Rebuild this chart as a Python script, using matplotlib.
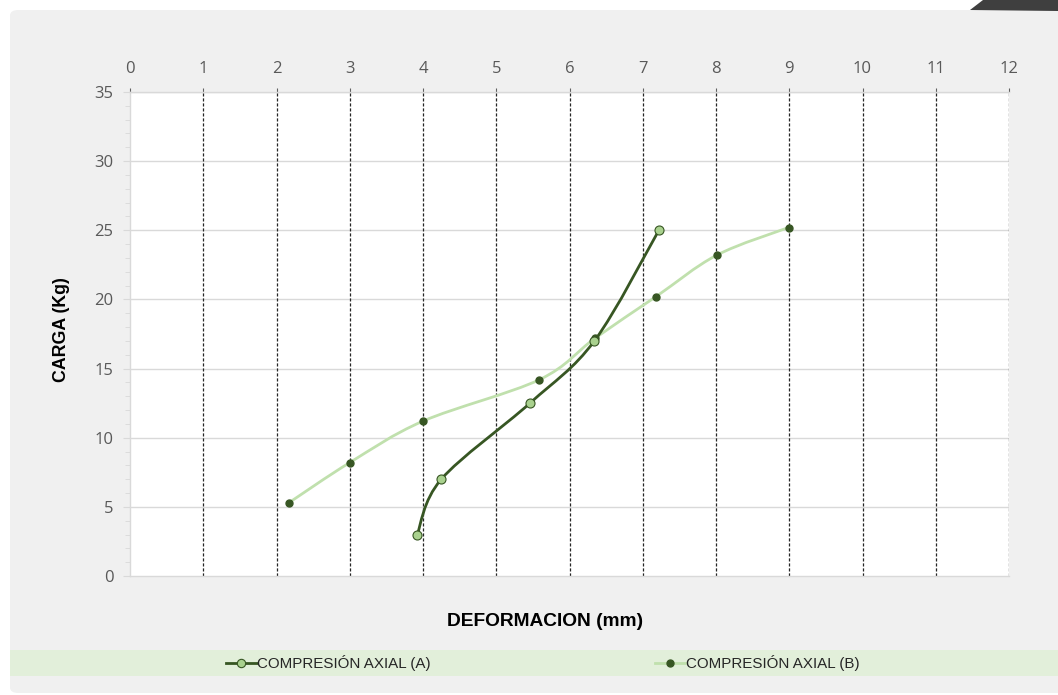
import matplotlib
matplotlib.use("Agg")
import matplotlib.pyplot as plt
import numpy as np
from matplotlib.path import Path
from matplotlib.patches import PathPatch, FancyBboxPatch, Rectangle, Polygon
from matplotlib.lines import Line2D

plt.rcParams["font.family"] = ["Open Sans", "DejaVu Sans"]

# ---- data ----
a_x = [3.92, 4.25, 5.46, 6.34, 7.22]
a_y = [3.0, 7.0, 12.5, 17.0, 25.0]
b_x = [2.17, 3.0, 4.0, 5.59, 6.35, 7.18, 8.01, 8.99]
b_y = [5.3, 8.2, 11.2, 14.2, 17.2, 20.2, 23.2, 25.2]
x_ticks = list(range(0, 13))
y_ticks = [0, 5, 10, 15, 20, 25, 30, 35]
label_a = "COMPRESIÓN AXIAL (A)"
label_b = "COMPRESIÓN AXIAL (B)"
x_title = "DEFORMACION (mm)"
y_title = "CARGA (Kg)"

W, H = 1058, 695
fig = plt.figure(figsize=(W / 100, H / 100), dpi=100)
fig.patch.set_facecolor("white")

def fx(px):
    return px / W

def fy(py):
    return 1 - py / H

# panel background
panel = FancyBboxPatch((fx(10), fy(693)), fx(1070) - fx(10), fy(10) - fy(693),
                       boxstyle="round,pad=0,rounding_size=0.008",
                       transform=fig.transFigure, facecolor="#f0f0f0",
                       edgecolor="none", zorder=-10)
fig.patches.append(panel)
# legend band
band = Rectangle((fx(10), fy(676)), fx(1058) - fx(10), fy(650) - fy(676),
                 transform=fig.transFigure, facecolor="#e2efda", edgecolor="none", zorder=-5)
fig.patches.append(band)
# dark corner tab
tab = Polygon([(fx(970), fy(10)), (fx(983), fy(0)), (fx(1058), fy(0)), (fx(1058), fy(11))],
              closed=True, transform=fig.transFigure, facecolor="#3f3f3f", edgecolor="none", zorder=-5)
fig.patches.append(tab)

ax = fig.add_axes([fx(130), fy(576), fx(1009) - fx(130), fy(92) - fy(576)])
ax.set_facecolor("white")
ax.set_xlim(0, 12)
ax.set_ylim(0, 35)

# grid
for v in y_ticks[1:]:
    ax.axhline(v, color="#d9d9d9", lw=1.0, zorder=1)
for v in x_ticks[1:]:
    ax.axvline(v, color="#262626", lw=0.9, ls=(0, (2.5, 1.5)), zorder=1)

for s in ["right"]:
    ax.spines[s].set_visible(False)
for s in ["left", "bottom", "top"]:
    ax.spines[s].set_color("#d9d9d9")
    ax.spines[s].set_linewidth(1.0)

ax.xaxis.tick_top()
ax.set_xticks(x_ticks)
ax.set_yticks(y_ticks)
ax.set_yticks(np.arange(0, 36, 1), minor=True)
ax.tick_params(axis="x", which="both", length=3, color="#606060", pad=8,
               labelsize=12, labelcolor="#595959", bottom=False, top=True)
ax.tick_params(axis="y", which="major", length=5, color="#d9d9d9", pad=7,
               labelsize=12, labelcolor="#595959")
ax.tick_params(axis="y", which="minor", length=3.5, color="#d9d9d9")

def smooth_path(xs, ys):
    pts = np.column_stack([xs, ys]).astype(float)
    n = len(pts)
    verts = [pts[0]]
    codes = [Path.MOVETO]
    for i in range(n - 1):
        p0 = pts[i - 1] if i > 0 else pts[i]
        p1 = pts[i]
        p2 = pts[i + 1]
        p3 = pts[i + 2] if i + 2 < n else pts[i + 1]
        c1 = p1 + (p2 - p0) / 6.0
        c2 = p2 - (p3 - p1) / 6.0
        verts += [c1, c2, p2]
        codes += [Path.CURVE4] * 3
    return Path(verts, codes)

col_dark = "#375623"
col_light = "#c0e0ad"
col_face = "#a9d18e"

ax.add_patch(PathPatch(smooth_path(b_x, b_y), facecolor="none", edgecolor=col_light,
                       lw=2.0, zorder=3, capstyle="round"))
ax.plot(b_x, b_y, ls="none", marker="o", ms=5, mfc=col_dark, mec=col_dark, zorder=4)

ax.add_patch(PathPatch(smooth_path(a_x, a_y), facecolor="none", edgecolor=col_dark,
                       lw=2.0, zorder=5, capstyle="round"))
ax.plot(a_x, a_y, ls="none", marker="o", ms=6.5, mfc=col_face, mec=col_dark, mew=0.8, zorder=6)

fig.text(fx(545), fy(622), x_title, ha="center", va="center", fontsize=13.8,
         fontweight="bold", family="Liberation Sans", color="black")
fig.text(fx(62), fy(330), y_title, ha="center", va="center", rotation=90, fontsize=12.8,
         fontweight="bold", family="Liberation Sans", color="black")

h_a = Line2D([], [], color=col_dark, lw=2.0, marker="o", ms=6, mfc=col_face, mec=col_dark, mew=0.8)
h_b = Line2D([], [], color=col_light, lw=2.0, marker="o", ms=5, mfc=col_dark, mec=col_dark)
leg = fig.legend([h_a, h_b], [label_a, label_b], loc="center", ncol=2,
                 bbox_to_anchor=(fx(543), fy(663)), frameon=False,
                 prop={"family": "Liberation Sans", "size": 10.9},
                 handlelength=2.0, handletextpad=0.05, columnspacing=14.8)
for t in leg.get_texts():
    t.set_color("#262626")

fig.savefig("out.png", dpi=100, facecolor=fig.get_facecolor())
